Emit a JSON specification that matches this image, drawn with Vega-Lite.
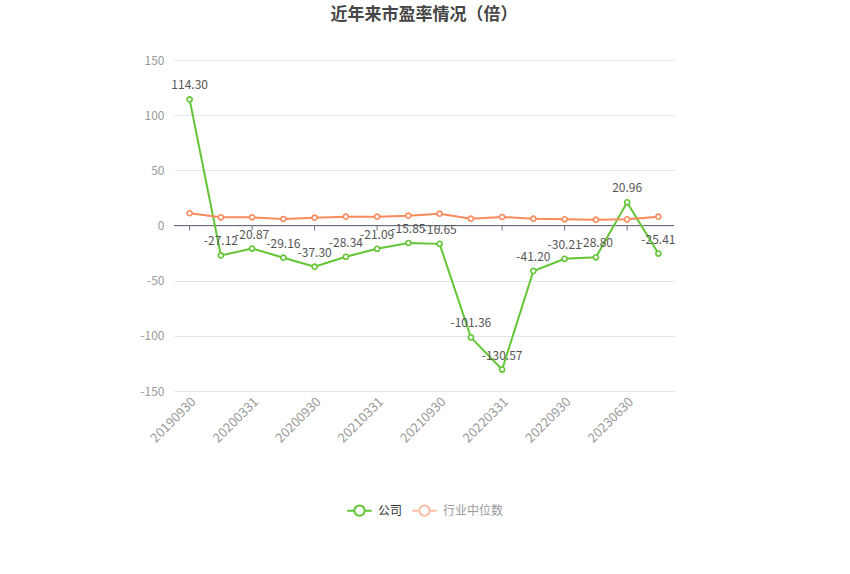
{
  "$schema": "https://vega.github.io/schema/vega-lite/v6.json",
  "width": 500,
  "height": 331,
  "autosize": {"type": "none"},
  "padding": {"left": 174, "top": 60, "right": 176, "bottom": 183},
  "background": "#ffffff",
  "title": {
    "text": "近年来市盈率情况（倍）",
    "anchor": "middle",
    "offset": 30,
    "fontSize": 17,
    "fontWeight": "bold",
    "color": "#464646",
    "font": "Noto Sans CJK SC"
  },
  "config": {
    "font": "Noto Sans CJK SC",
    "view": {"stroke": null},
    "locale": {
      "number": {"decimal": ".", "thousands": ",", "grouping": [3], "currency": ["", ""], "minus": "-"}
    }
  },
  "data": {
    "values": [
      {"date": "20190930", "series": "公司", "value": 114.30},
      {"date": "20191231", "series": "公司", "value": -27.12},
      {"date": "20200331", "series": "公司", "value": -20.87},
      {"date": "20200630", "series": "公司", "value": -29.16},
      {"date": "20200930", "series": "公司", "value": -37.30},
      {"date": "20201231", "series": "公司", "value": -28.34},
      {"date": "20210331", "series": "公司", "value": -21.09},
      {"date": "20210630", "series": "公司", "value": -15.85},
      {"date": "20210930", "series": "公司", "value": -16.65},
      {"date": "20211231", "series": "公司", "value": -101.36},
      {"date": "20220331", "series": "公司", "value": -130.57},
      {"date": "20220630", "series": "公司", "value": -41.20},
      {"date": "20220930", "series": "公司", "value": -30.21},
      {"date": "20230331", "series": "公司", "value": -28.80},
      {"date": "20230630", "series": "公司", "value": 20.96},
      {"date": "20230930", "series": "公司", "value": -25.41},
      {"date": "20190930", "series": "行业中位数", "value": 11.1},
      {"date": "20191231", "series": "行业中位数", "value": 7.4},
      {"date": "20200331", "series": "行业中位数", "value": 7.4},
      {"date": "20200630", "series": "行业中位数", "value": 5.9},
      {"date": "20200930", "series": "行业中位数", "value": 7.1},
      {"date": "20201231", "series": "行业中位数", "value": 8.0},
      {"date": "20210331", "series": "行业中位数", "value": 8.0},
      {"date": "20210630", "series": "行业中位数", "value": 8.9},
      {"date": "20210930", "series": "行业中位数", "value": 10.7},
      {"date": "20211231", "series": "行业中位数", "value": 6.2},
      {"date": "20220331", "series": "行业中位数", "value": 7.7},
      {"date": "20220630", "series": "行业中位数", "value": 6.2},
      {"date": "20220930", "series": "行业中位数", "value": 5.6},
      {"date": "20230331", "series": "行业中位数", "value": 5.3},
      {"date": "20230630", "series": "行业中位数", "value": 5.6},
      {"date": "20230930", "series": "行业中位数", "value": 8.0}
    ]
  },
  "encoding": {
    "x": {
      "field": "date",
      "type": "nominal",
      "title": null,
      "scale": {
        "domain": ["20190930", "20191231", "20200331", "20200630", "20200930", "20201231", "20210331", "20210630", "20210930", "20211231", "20220331", "20220630", "20220930", "20230331", "20230630", "20230930"]
      },
      "axis": {
        "values": ["20190930", "20200331", "20200930", "20210331", "20210930", "20220331", "20220930", "20230630"],
        "labelAngle": -45,
        "labelAlign": "right",
        "labelBaseline": "top",
        "labelPadding": 4,
        "labelColor": "#999999",
        "labelFontSize": 13,
        "domain": false,
        "ticks": false,
        "grid": false
      }
    },
    "y": {
      "field": "value",
      "type": "quantitative",
      "title": null,
      "scale": {"domain": [-150, 150], "nice": false},
      "axis": {
        "values": [-150, -100, -50, 0, 50, 100, 150],
        "labelColor": "#999999",
        "labelFontSize": 12,
        "labelPadding": 10,
        "domain": false,
        "ticks": false,
        "gridColor": "#e0e6f1",
        "gridWidth": 1
      }
    }
  },
  "layer": [
    {
      "mark": {"type": "rule", "color": "#6e7079", "strokeWidth": 1},
      "encoding": {"x": null, "y": {"datum": 0}}
    },
    {
      "transform": [
        {"filter": "datum.series === '公司' && indexof(['20190930','20200331','20200930','20210331','20210930','20220331','20220930','20230630'], datum.date) >= 0"}
      ],
      "mark": {"type": "rule", "color": "#6e7079", "strokeWidth": 1},
      "encoding": {"y": {"datum": 0}, "y2": {"datum": -4.5}}
    },
    {
      "mark": {"type": "line", "strokeWidth": 2},
      "encoding": {
        "color": {
          "field": "series",
          "type": "nominal",
          "scale": {"domain": ["公司", "行业中位数"], "range": ["#62c534", "#fa8a5c"]},
          "legend": {
            "title": null,
            "orient": "none",
            "direction": "horizontal",
            "legendX": 172,
            "legendY": 437,
            "symbolType": "M-1,0H-0.42M0.42,0H1M0.42,0A0.42,0.42 0 1,1 -0.42,0A0.42,0.42 0 1,1 0.42,0",
            "symbolSize": 600,
            "symbolStrokeWidth": 2,
            "symbolFillColor": "#ffffff",
            "labelFontSize": 12,
            "labelColor": "#333333",
            "columnPadding": 5,
            "labelOffset": 5,
            "encode": {
              "symbols": {"update": {"opacity": {"signal": "datum.value === '行业中位数' ? 0.55 : 1"}}},
              "labels": {"update": {"fill": {"signal": "datum.value === '行业中位数' ? '#999999' : '#333333'"}}}
            }
          }
        }
      }
    },
    {
      "mark": {"type": "point", "filled": true, "fill": "#ffffff", "size": 26, "strokeWidth": 1.6, "opacity": 1},
      "encoding": {
        "stroke": {
          "field": "series",
          "type": "nominal",
          "scale": {"domain": ["公司", "行业中位数"], "range": ["#62c534", "#fa8a5c"]},
          "legend": null
        }
      }
    },
    {
      "transform": [{"filter": "datum.series === '公司'"}],
      "mark": {"type": "text", "baseline": "bottom", "dy": -7, "fontSize": 12, "color": "#555555"},
      "encoding": {
        "text": {"field": "value", "type": "quantitative", "format": ".2f"}
      }
    }
  ]
}
